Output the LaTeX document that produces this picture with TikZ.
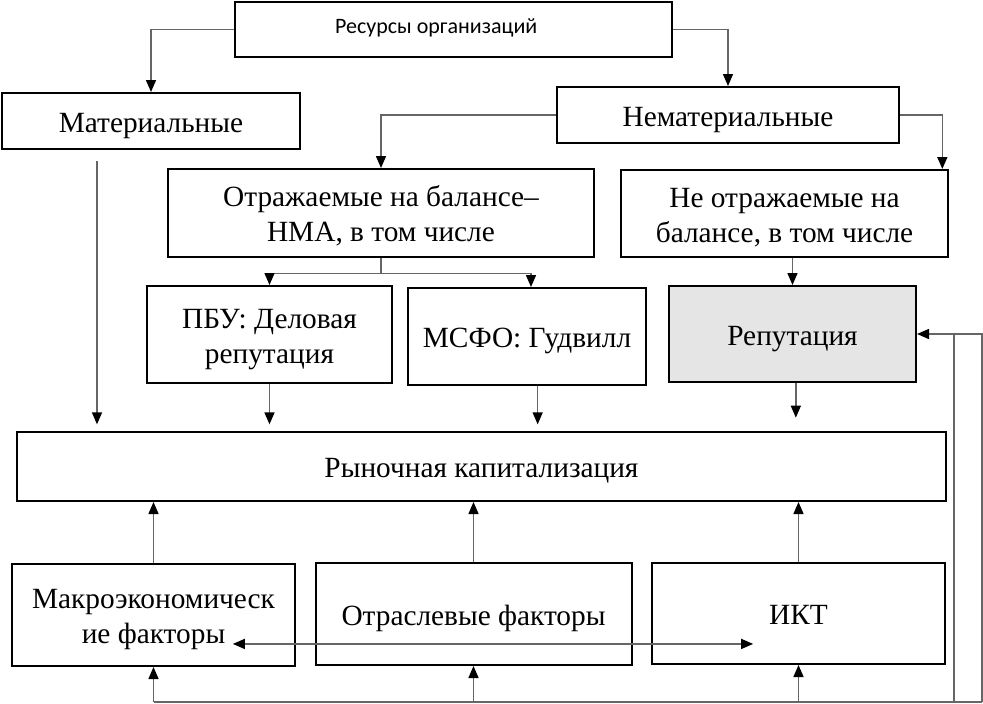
\documentclass[tikz,border=0pt]{standalone}
\usepackage{fontspec}
\setmainfont{Liberation Serif}
\newfontfamily\calib{Carlito}
\usetikzlibrary{arrows.meta,calc}
\tikzset{
  bx/.style={draw=black, line width=1.5pt, inner sep=0pt, align=center,
    text depth=0pt, text height=17pt, font=\fontsize{22}{26.3}\selectfont},
  two/.style={text height=43pt},
  sz/.style 2 args={minimum width=#1*0.75pt, minimum height=#2*0.75pt},
  conn/.style={draw=black!60, line width=1.1pt},
  >={Triangle[length=9pt,width=7.5pt,color=black]}
}
\begin{document}
\begin{tikzpicture}[x=0.75pt,y=-0.75pt]
\useasboundingbox (0,0) rectangle (983,704);
% nodes
\node[bx, sz={437}{55}] (top) at (453.5,29.5) {};
\node[font=\calib\fontsize{16.5}{19}\selectfont, inner sep=0pt] (toptxt) at ([shift={(-13pt,1pt)}]top.center) {Ресурсы организаций};
\node[bx, sz={298}{56}] (mat) at (151,121) {Материальные};
\node[bx, sz={342}{56}] (nemat) at (728,115) {Нематериальные};
\node[bx, two, sz={426}{88}] (otr) at (381,213) {Отражаемые на балансе–\\НМА, в том числе};
\node[bx, two, sz={327}{87}] (neotr) at (784.5,213.5) {Не отражаемые на\\балансе, в том числе};
\node[bx, two, sz={245}{97}] (pbu) at (269.5,334.5) {ПБУ: Деловая\\репутация};
\node[bx, sz={238}{97}] (msfo) at (527,336.5) {МСФО: Гудвилл};
\node[bx, sz={247}{96}, fill=black!10] (rep) at (792.5,334) {Репутация};
\node[bx, sz={929}{69}] (ryn) at (481.5,466.5) {Рыночная капитализация};
\node[bx, two, sz={283}{102}] (makro) at (153.5,615) {Макроэкономическ\\ие факторы};
\node[bx, sz={316}{102}] (otrasl) at (473.5,614) {Отраслевые факторы};
\node[bx, sz={293}{101}] (ikt) at (798.5,613.5) {ИКТ};
% top connectors
\draw[conn,->] (top.west) -| (mat.north);
\draw[conn,->] (top.east) -| (nemat.north);
\draw[conn,->] (nemat.west) -| (otr.north);
\draw[conn,->] (nemat.east) -| ([xshift=-5pt]neotr.north east);
\coordinate (split) at ([yshift=-11.5pt]otr.south);
\draw[conn] (otr.south) -- (split);
\draw[conn,->] (split) -| (pbu.north);
\draw[conn,->] (split) -| ([xshift=3pt]msfo.north);
\draw[conn,->] (rep.north |- neotr.south) -- (rep.north);
% down to market cap
\coordinate (mstart) at ([shift={(-40.5pt,-8.5pt)}]mat.south);
\draw[conn,->,shorten >=5pt] (mstart) -- (mstart |- ryn.north);
\draw[conn,->,shorten >=5pt] (pbu.south) -- (pbu.south |- ryn.north);
\coordinate (msd) at ([xshift=8pt]msfo.south);
\draw[conn,->,shorten >=5pt] (msd) -- (msd |- ryn.north);
\coordinate (rpd) at ([xshift=2.5pt]rep.south);
\draw[conn,->,shorten >=10pt] (rpd) -- (rpd |- ryn.north);
% up to market cap
\draw[conn,->] (makro.north) -- (makro.north |- ryn.south);
\draw[conn,->] (otrasl.north) -- (otrasl.north |- ryn.south);
\draw[conn,->] (ikt.north) -- (ikt.north |- ryn.south);
% double arrow
\coordinate (dl) at ([shift={(59.5pt,-21.7pt)}]makro.center);
\coordinate (dr) at ([xshift=-34pt]ikt.center);
\draw[conn,<->] (dl) -- (dl -| dr);
% feedback loop
\coordinate (br) at (982,702);
\coordinate (bm) at (954,702);
\draw[conn,->] (br) |- (rep.east);
\draw[conn] (bm) -- (bm |- rep.east);
\draw[conn] (br) -- (makro.south |- br);
\draw[conn,->] (makro.south |- br) -- (makro.south);
\draw[conn,->] (otrasl.south |- br) -- (otrasl.south);
\draw[conn,->] (ikt.south |- br) -- (ikt.south);
\end{tikzpicture}
\end{document}
